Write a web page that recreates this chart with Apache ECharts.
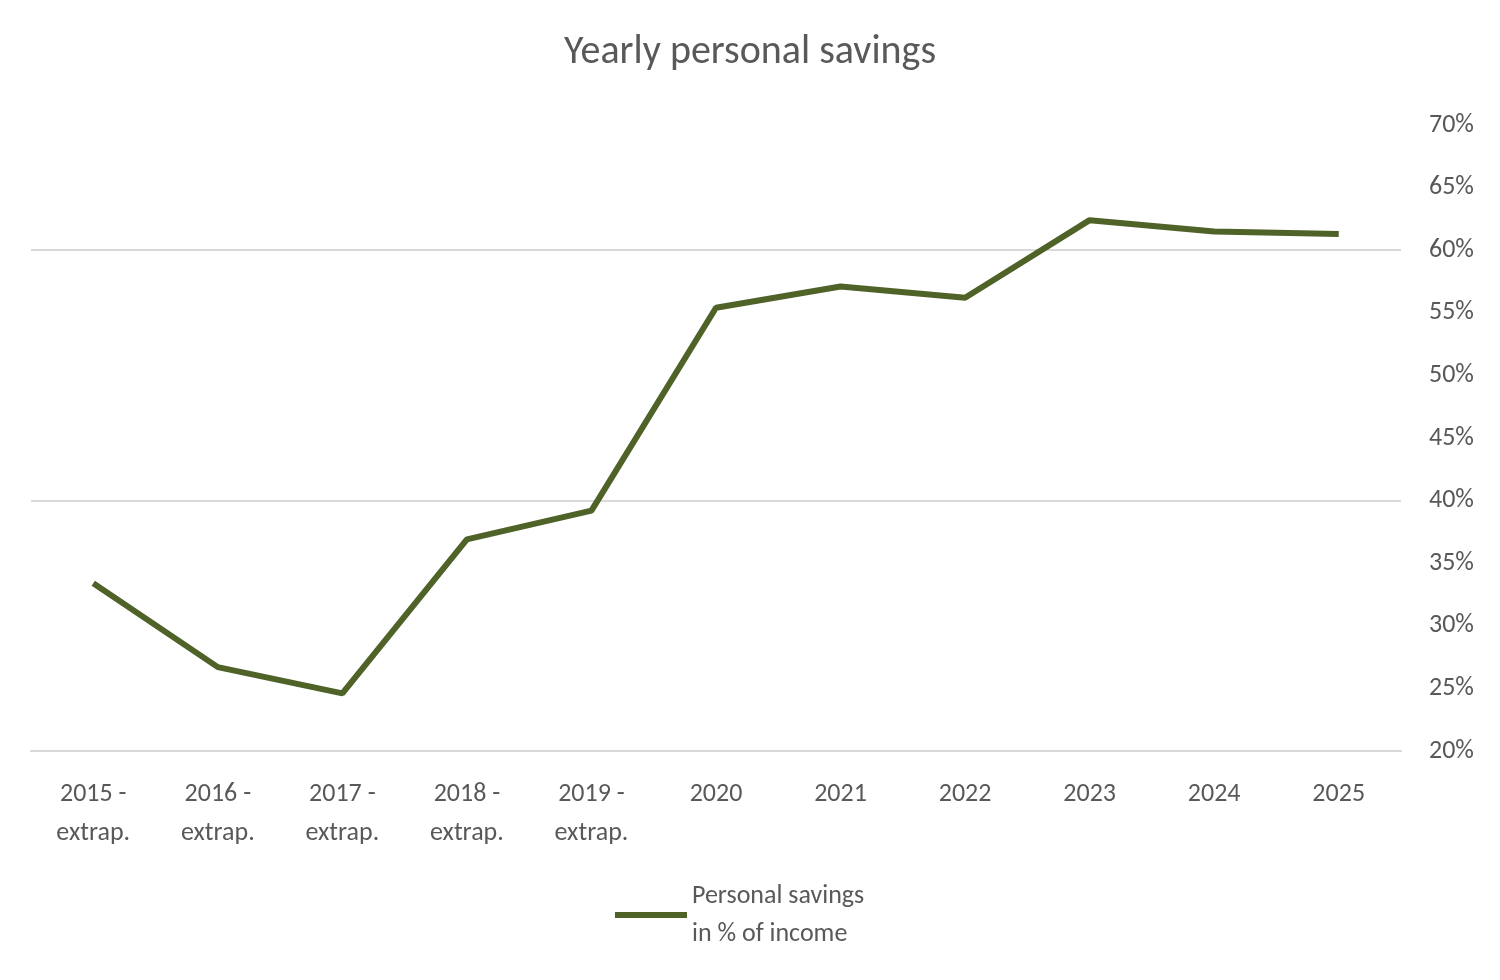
<!DOCTYPE html>
<html><head><meta charset="utf-8">
<script src="https://cdn.jsdelivr.net/npm/echarts@6/dist/echarts.min.js"></script>
<style>html,body{margin:0;padding:0;background:#fff}#c{width:1500px;height:980px}</style>
</head><body><div id="c"></div>
<script>
const categories = ['2015 -\nextrap.','2016 -\nextrap.','2017 -\nextrap.','2018 -\nextrap.','2019 -\nextrap.','2020','2021','2022','2023','2024','2025'];
const savings = [33.4, 26.7, 24.6, 36.9, 39.2, 55.4, 57.1, 56.2, 62.4, 61.5, 61.3];
const gridLines = [40, 60];
const seriesName = 'Personal savings\nin % of income';
const font = 'Calibri, Carlito, "Open Sans", sans-serif';
const chart = echarts.init(document.getElementById('c'));
chart.setOption({
  animation: false,
  textStyle: {fontFamily: font},
  title: {text: 'Yearly personal savings', left: 'center', top: 28,
    textStyle: {fontSize: 40, fontWeight: 'normal', color: '#595959', fontFamily: font}},
  grid: {left: 31, right: 99, top: 125, bottom: 229},
  legend: {bottom: 22, left: 610, itemWidth: 72, itemHeight: 6, itemGap: 4,
    icon: 'rect',
    textStyle: {fontSize: 26, color: '#595959', lineHeight: 38, fontFamily: font},
    data: [seriesName]},
  xAxis: {type: 'category', data: categories, boundaryGap: true,
    axisLine: {lineStyle: {color: '#d9d9d9', width: 2}},
    axisTick: {show: false},
    axisLabel: {fontSize: 26, color: '#595959', lineHeight: 39, margin: 24, fontFamily: font}},
  yAxis: {type: 'value', position: 'right', min: 20, max: 70, interval: 5,
    axisLine: {show: false}, axisTick: {show: false},
    splitLine: {show: false},
    axisLabel: {fontSize: 26, color: '#595959', margin: 28, formatter: v => v + '%', fontFamily: font}},
  series: [{
    name: seriesName, type: 'line', data: savings, symbol: 'none',
    lineStyle: {color: '#4f6228', width: 6}, itemStyle: {color: '#4f6228'},
    z: 3,
    markLine: {silent: true, symbol: 'none', label: {show: false},
      lineStyle: {color: '#d9d9d9', width: 2, type: 'solid'},
      data: gridLines.map(v => ({yAxis: v})), z: 1}
  }]
});
</script></body></html>
